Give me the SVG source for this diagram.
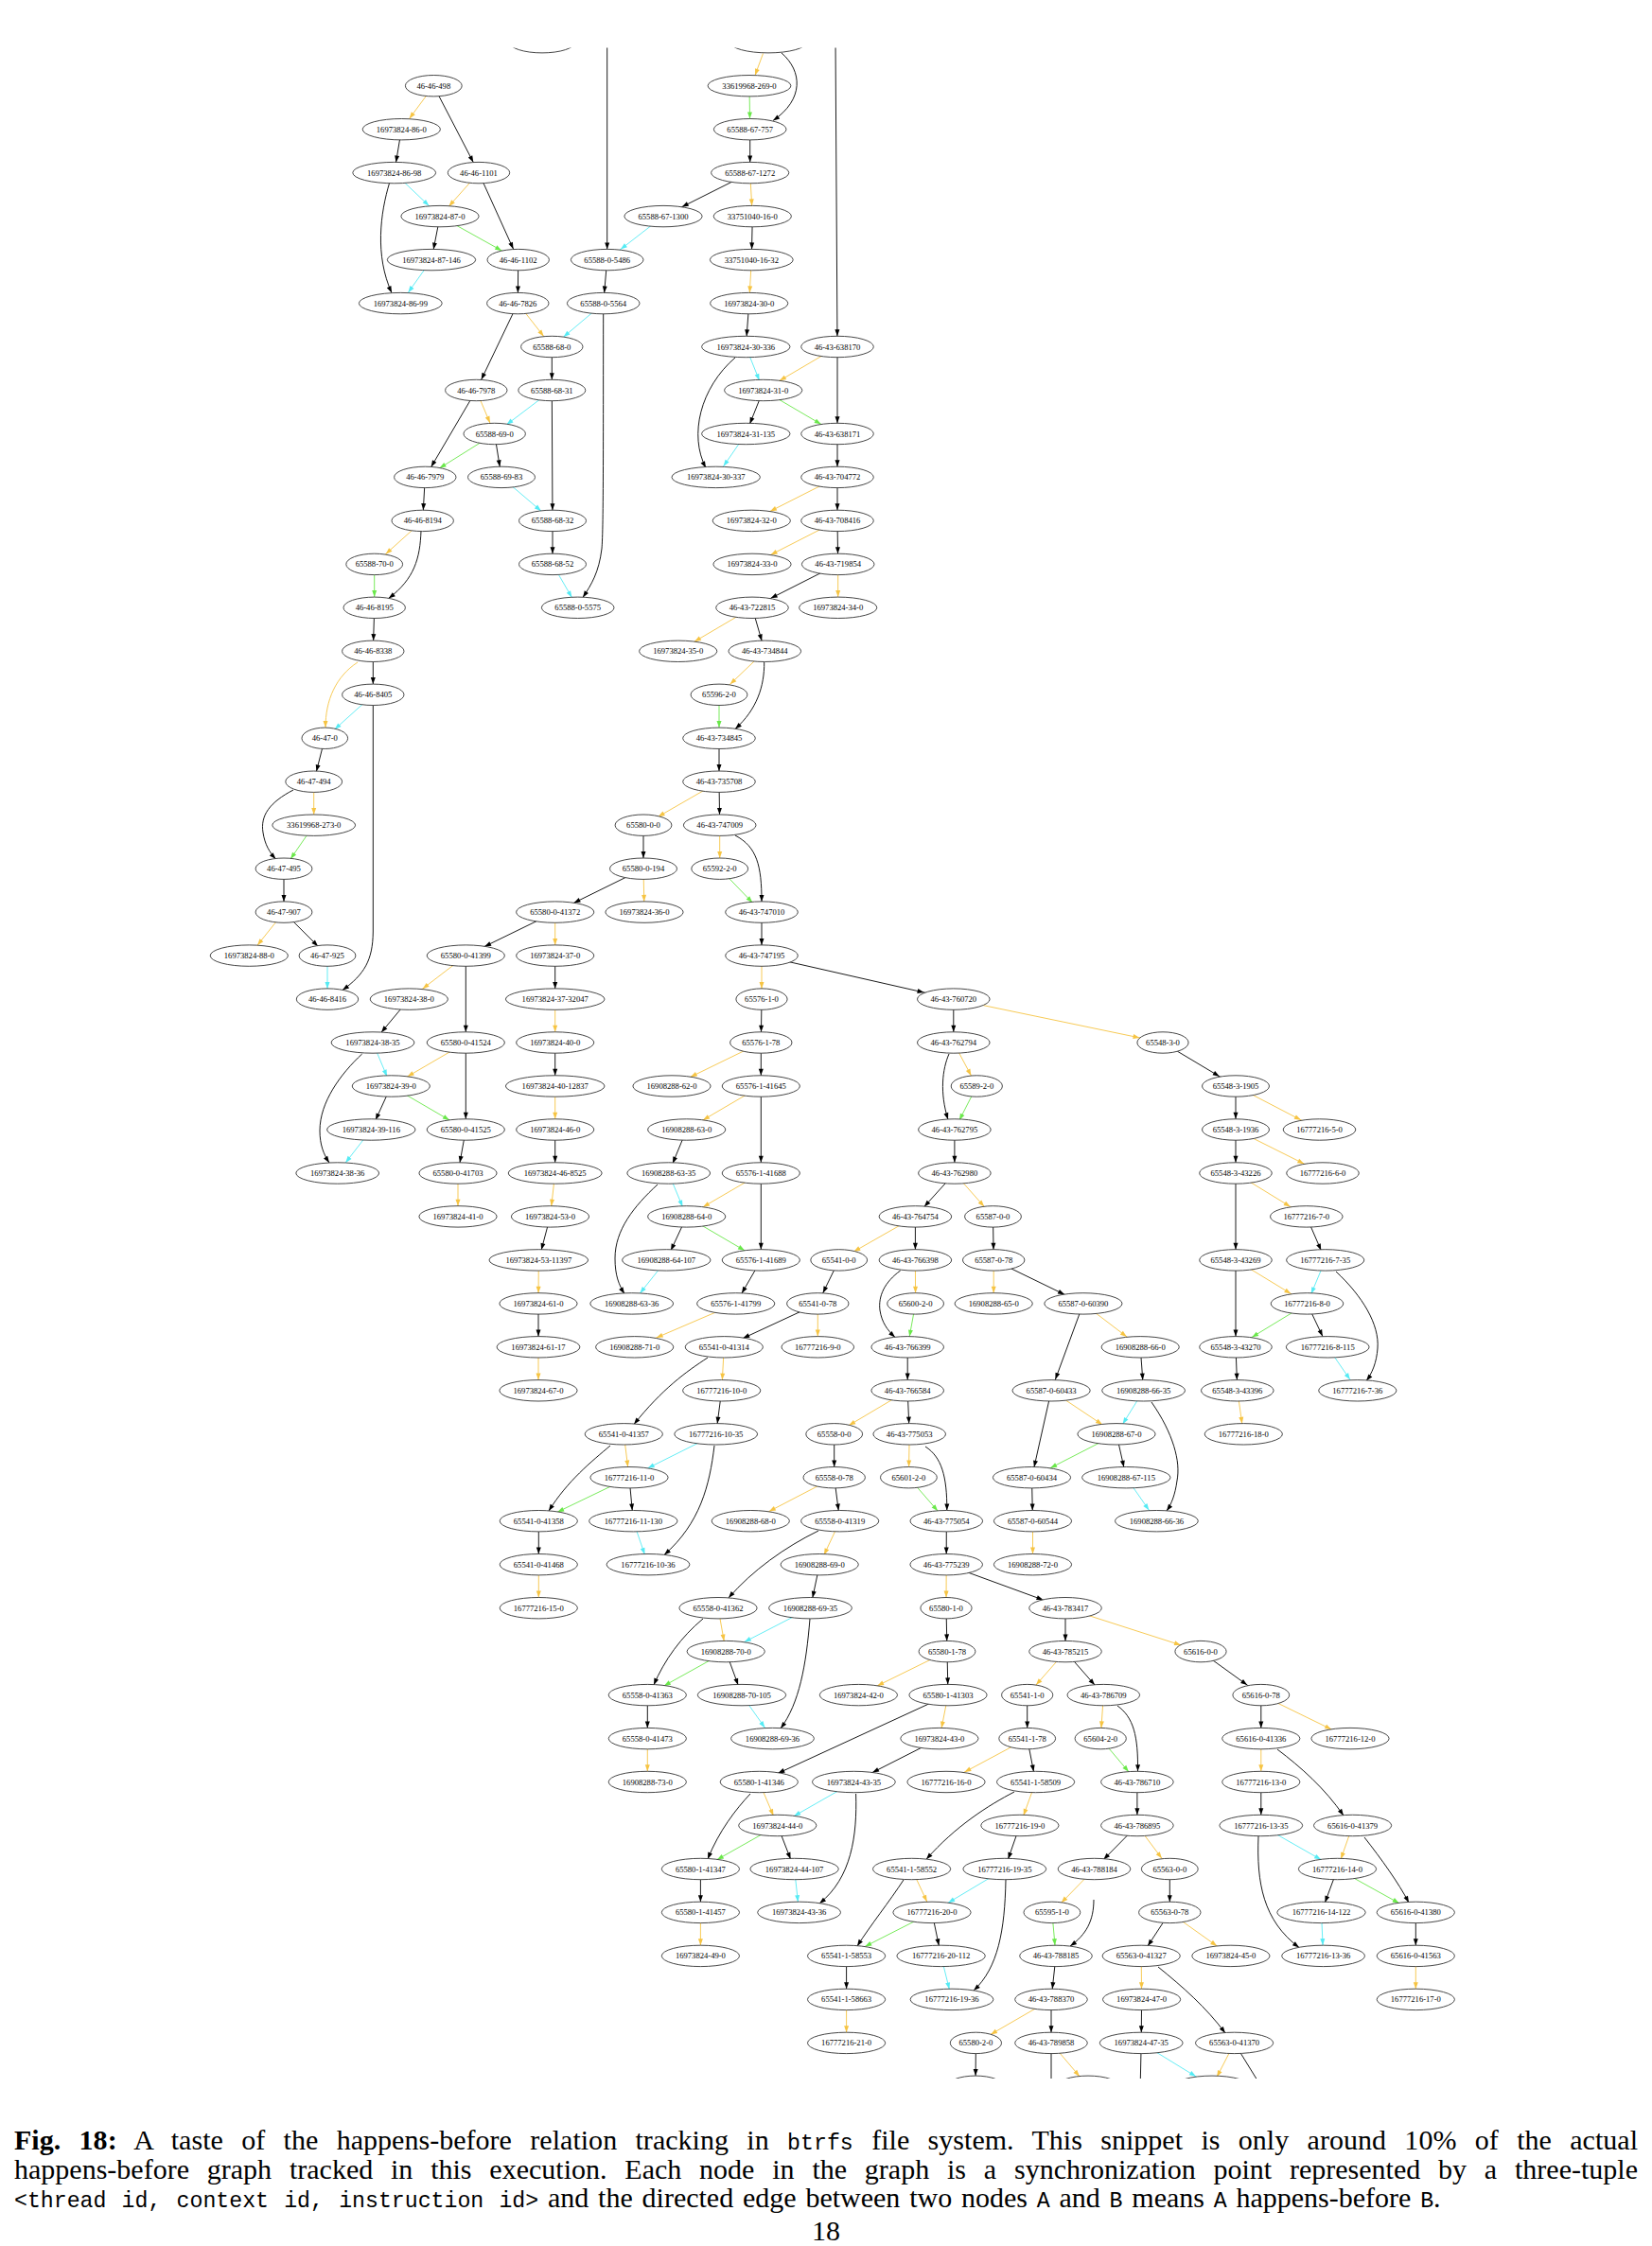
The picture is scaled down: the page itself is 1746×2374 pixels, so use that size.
<svg xmlns="http://www.w3.org/2000/svg" width="1746" height="2374" viewBox="0 0 1746 2374">
<style>
.n ellipse{fill:#fff;stroke:#333;stroke-width:.9}
.n text{font-family:"Liberation Serif",serif;font-size:8.6px;text-anchor:middle;fill:#000}
#edges path{fill:none;stroke-width:.9}
.k{stroke:#000}.o{stroke:#f6c443}.c{stroke:#55ebf4}.g{stroke:#6ae84a}
marker{overflow:visible}
.cap{font-family:"Liberation Serif",serif;font-size:30px;fill:#000}
.mono{font-family:"Liberation Mono",monospace;font-size:23.2px}
</style>
<defs>
<clipPath id="clip"><rect x="0" y="50.5" width="1746" height="2146.5"/></clipPath>
<marker id="k0" refX="0" markerUnits="userSpaceOnUse" orient="auto"><path d="M0,0L-7,-2.5L-7,2.5Z" fill="#000"/></marker>
<marker id="k11" refX="11.2" markerUnits="userSpaceOnUse" orient="auto"><path d="M0,0L-7,-2.5L-7,2.5Z" fill="#000"/></marker>
<marker id="k12" refX="12.5" markerUnits="userSpaceOnUse" orient="auto"><path d="M0,0L-7,-2.5L-7,2.5Z" fill="#000"/></marker>
<marker id="k14" refX="14" markerUnits="userSpaceOnUse" orient="auto"><path d="M0,0L-7,-2.5L-7,2.5Z" fill="#000"/></marker>
<marker id="k16" refX="16" markerUnits="userSpaceOnUse" orient="auto"><path d="M0,0L-7,-2.5L-7,2.5Z" fill="#000"/></marker>
<marker id="k18" refX="18" markerUnits="userSpaceOnUse" orient="auto"><path d="M0,0L-7,-2.5L-7,2.5Z" fill="#000"/></marker>
<marker id="k20" refX="20" markerUnits="userSpaceOnUse" orient="auto"><path d="M0,0L-7,-2.5L-7,2.5Z" fill="#000"/></marker>
<marker id="k22" refX="22" markerUnits="userSpaceOnUse" orient="auto"><path d="M0,0L-7,-2.5L-7,2.5Z" fill="#000"/></marker>
<marker id="k25" refX="25" markerUnits="userSpaceOnUse" orient="auto"><path d="M0,0L-7,-2.5L-7,2.5Z" fill="#000"/></marker>
<marker id="k32" refX="32" markerUnits="userSpaceOnUse" orient="auto"><path d="M0,0L-7,-2.5L-7,2.5Z" fill="#000"/></marker>
<marker id="o0" refX="0" markerUnits="userSpaceOnUse" orient="auto"><path d="M0,0L-7,-2.5L-7,2.5Z" fill="#f6c443"/></marker>
<marker id="o11" refX="11.2" markerUnits="userSpaceOnUse" orient="auto"><path d="M0,0L-7,-2.5L-7,2.5Z" fill="#f6c443"/></marker>
<marker id="o12" refX="12.5" markerUnits="userSpaceOnUse" orient="auto"><path d="M0,0L-7,-2.5L-7,2.5Z" fill="#f6c443"/></marker>
<marker id="o14" refX="14" markerUnits="userSpaceOnUse" orient="auto"><path d="M0,0L-7,-2.5L-7,2.5Z" fill="#f6c443"/></marker>
<marker id="o16" refX="16" markerUnits="userSpaceOnUse" orient="auto"><path d="M0,0L-7,-2.5L-7,2.5Z" fill="#f6c443"/></marker>
<marker id="o18" refX="18" markerUnits="userSpaceOnUse" orient="auto"><path d="M0,0L-7,-2.5L-7,2.5Z" fill="#f6c443"/></marker>
<marker id="o20" refX="20" markerUnits="userSpaceOnUse" orient="auto"><path d="M0,0L-7,-2.5L-7,2.5Z" fill="#f6c443"/></marker>
<marker id="o22" refX="22" markerUnits="userSpaceOnUse" orient="auto"><path d="M0,0L-7,-2.5L-7,2.5Z" fill="#f6c443"/></marker>
<marker id="o25" refX="25" markerUnits="userSpaceOnUse" orient="auto"><path d="M0,0L-7,-2.5L-7,2.5Z" fill="#f6c443"/></marker>
<marker id="c11" refX="11.2" markerUnits="userSpaceOnUse" orient="auto"><path d="M0,0L-7,-2.5L-7,2.5Z" fill="#55ebf4"/></marker>
<marker id="c12" refX="12.5" markerUnits="userSpaceOnUse" orient="auto"><path d="M0,0L-7,-2.5L-7,2.5Z" fill="#55ebf4"/></marker>
<marker id="c14" refX="14" markerUnits="userSpaceOnUse" orient="auto"><path d="M0,0L-7,-2.5L-7,2.5Z" fill="#55ebf4"/></marker>
<marker id="c16" refX="16" markerUnits="userSpaceOnUse" orient="auto"><path d="M0,0L-7,-2.5L-7,2.5Z" fill="#55ebf4"/></marker>
<marker id="c18" refX="18" markerUnits="userSpaceOnUse" orient="auto"><path d="M0,0L-7,-2.5L-7,2.5Z" fill="#55ebf4"/></marker>
<marker id="c20" refX="20" markerUnits="userSpaceOnUse" orient="auto"><path d="M0,0L-7,-2.5L-7,2.5Z" fill="#55ebf4"/></marker>
<marker id="c22" refX="22" markerUnits="userSpaceOnUse" orient="auto"><path d="M0,0L-7,-2.5L-7,2.5Z" fill="#55ebf4"/></marker>
<marker id="g11" refX="11.2" markerUnits="userSpaceOnUse" orient="auto"><path d="M0,0L-7,-2.5L-7,2.5Z" fill="#6ae84a"/></marker>
<marker id="g12" refX="12.5" markerUnits="userSpaceOnUse" orient="auto"><path d="M0,0L-7,-2.5L-7,2.5Z" fill="#6ae84a"/></marker>
<marker id="g14" refX="14" markerUnits="userSpaceOnUse" orient="auto"><path d="M0,0L-7,-2.5L-7,2.5Z" fill="#6ae84a"/></marker>
<marker id="g18" refX="18" markerUnits="userSpaceOnUse" orient="auto"><path d="M0,0L-7,-2.5L-7,2.5Z" fill="#6ae84a"/></marker>
<marker id="g20" refX="20" markerUnits="userSpaceOnUse" orient="auto"><path d="M0,0L-7,-2.5L-7,2.5Z" fill="#6ae84a"/></marker>
<marker id="g22" refX="22" markerUnits="userSpaceOnUse" orient="auto"><path d="M0,0L-7,-2.5L-7,2.5Z" fill="#6ae84a"/></marker>
</defs>
<rect width="1746" height="2374" fill="#fff"/>
<g clip-path="url(#clip)">
<g id="edges">
<path class="o" d="M806.5,56.5L798,79.6" marker-end="url(#o0)"/>
<path class="k" d="M826,56C848,75 850,105 817,127.5" marker-end="url(#k0)"/>
<path class="k" d="M641.7,40L641.7,274.6" marker-end="url(#k11)"/>
<path class="k" d="M883,40L885,366.5" marker-end="url(#k11)"/>
<path class="o" d="M458.3,90.7L424.3,136.7" marker-end="url(#o14)"/>
<path class="k" d="M458.3,90.7L506,182.6" marker-end="url(#k12)"/>
<path class="k" d="M424.3,136.7L416.7,182.6" marker-end="url(#k11)"/>
<path class="c" d="M416.7,182.6L465,228.6" marker-end="url(#c16)"/>
<path class="k" d="M411.7,193C402,225 396,270 414,309.5" marker-end="url(#k0)"/>
<path class="o" d="M506,182.6L465,228.6" marker-end="url(#o14)"/>
<path class="k" d="M506,182.6L547.7,274.6" marker-end="url(#k12)"/>
<path class="k" d="M465,228.6L456,274.6" marker-end="url(#k11)"/>
<path class="g" d="M465,228.6L547.7,274.6" marker-end="url(#g20)"/>
<path class="c" d="M456,274.6L423.3,320.6" marker-end="url(#c14)"/>
<path class="c" d="M701,228.6L641.7,274.6" marker-end="url(#c18)"/>
<path class="k" d="M641.7,274.6L637.7,320.6" marker-end="url(#k11)"/>
<path class="k" d="M547.7,274.6L547.3,320.6" marker-end="url(#k11)"/>
<path class="o" d="M547.3,320.6L583.3,366.5" marker-end="url(#o14)"/>
<path class="c" d="M637.7,320.6L583.3,366.5" marker-end="url(#c16)"/>
<path class="k" d="M637.7,331C637.5,450 638,560 636,580C633,605 625,618 616,631.5" marker-end="url(#k0)"/>
<path class="k" d="M547.3,320.6L503.3,412.5" marker-end="url(#k12)"/>
<path class="k" d="M583.3,366.5L583.3,412.5" marker-end="url(#k11)"/>
<path class="o" d="M503.3,412.5L522.7,458.5" marker-end="url(#o12)"/>
<path class="c" d="M583.3,412.5L522.7,458.5" marker-end="url(#c16)"/>
<path class="k" d="M503.3,412.5L449.3,504.4" marker-end="url(#k12)"/>
<path class="g" d="M522.7,458.5L449.3,504.4" marker-end="url(#g18)"/>
<path class="k" d="M522.7,458.5L530,504.4" marker-end="url(#k11)"/>
<path class="k" d="M583.3,412.5L584,550.4" marker-end="url(#k11)"/>
<path class="c" d="M530,504.4L584,550.4" marker-end="url(#c16)"/>
<path class="k" d="M449.3,504.4L446.7,550.4" marker-end="url(#k11)"/>
<path class="o" d="M446.7,550.4L395.7,596.4" marker-end="url(#o16)"/>
<path class="k" d="M445,561C444,590 438,612 410.7,632.4" marker-end="url(#k0)"/>
<path class="k" d="M584,550.4L584,596.4" marker-end="url(#k11)"/>
<path class="c" d="M584,596.4L610.7,642.3" marker-end="url(#c12)"/>
<path class="g" d="M395.7,596.4L395.7,642.3" marker-end="url(#g11)"/>
<path class="g" d="M792,90.7L792.7,136.7" marker-end="url(#g11)"/>
<path class="k" d="M792.7,136.7L792.7,182.6" marker-end="url(#k11)"/>
<path class="k" d="M792.7,182.6L701,228.6" marker-end="url(#k22)"/>
<path class="o" d="M792.7,182.6L795.3,228.6" marker-end="url(#o11)"/>
<path class="k" d="M795.3,228.6L794.3,274.6" marker-end="url(#k11)"/>
<path class="o" d="M794.3,274.6L791.7,320.6" marker-end="url(#o11)"/>
<path class="k" d="M791.7,320.6L788.3,366.5" marker-end="url(#k11)"/>
<path class="c" d="M788.3,366.5L806.7,412.5" marker-end="url(#c11)"/>
<path class="o" d="M885,366.5L806.7,412.5" marker-end="url(#o20)"/>
<path class="k" d="M777,378C740,410 728,460 746,494.5" marker-end="url(#k0)"/>
<path class="k" d="M806.7,412.5L788.3,458.5" marker-end="url(#k11)"/>
<path class="g" d="M806.7,412.5L885,458.5" marker-end="url(#g20)"/>
<path class="k" d="M885,366.5L885,458.5" marker-end="url(#k11)"/>
<path class="c" d="M788.3,458.5L756.7,504.4" marker-end="url(#c14)"/>
<path class="k" d="M885,458.5L885,504.4" marker-end="url(#k11)"/>
<path class="o" d="M885,504.4L794.3,550.4" marker-end="url(#o22)"/>
<path class="k" d="M885,504.4L885,550.4" marker-end="url(#k11)"/>
<path class="o" d="M885,550.4L795,596.4" marker-end="url(#o22)"/>
<path class="k" d="M885,550.4L885.7,596.4" marker-end="url(#k11)"/>
<path class="k" d="M885.7,596.4L795,642.3" marker-end="url(#k22)"/>
<path class="o" d="M885.7,596.4L885.7,642.3" marker-end="url(#o11)"/>
<path class="o" d="M795,642.3L716.7,688.3" marker-end="url(#o20)"/>
<path class="k" d="M795,642.3L808.3,688.3" marker-end="url(#k11)"/>
<path class="k" d="M395.7,642.3L394.3,688.3" marker-end="url(#k11)"/>
<path class="k" d="M394.3,688.3L394.3,734.3" marker-end="url(#k11)"/>
<path class="o" d="M378,700C355,715 344,740 344,769" marker-end="url(#o0)"/>
<path class="c" d="M394.3,734.3L343.3,780.3" marker-end="url(#c14)"/>
<path class="k" d="M394.3,745L394.3,985C394,1015 385,1030 362,1046.5" marker-end="url(#k0)"/>
<path class="k" d="M343.3,780.3L331.7,826.2" marker-end="url(#k11)"/>
<path class="o" d="M331.7,826.2L331.7,872.2" marker-end="url(#o11)"/>
<path class="k" d="M310,835C285,848 275,862 278,880C280,893 285,901 291.5,908" marker-end="url(#k0)"/>
<path class="g" d="M331.7,872.2L300,918.2" marker-end="url(#g12)"/>
<path class="k" d="M300,918.2L300,964.1" marker-end="url(#k11)"/>
<path class="o" d="M300,964.1L263.3,1010.1" marker-end="url(#o14)"/>
<path class="k" d="M300,964.1L346,1010.1" marker-end="url(#k14)"/>
<path class="c" d="M346,1010.1L346,1056.1" marker-end="url(#c11)"/>
<path class="k" d="M680,918.2L586.7,964.1" marker-end="url(#k22)"/>
<path class="k" d="M586.7,964.1L492.3,1010.1" marker-end="url(#k22)"/>
<path class="o" d="M586.7,964.1L586.7,1010.1" marker-end="url(#o11)"/>
<path class="o" d="M492.3,1010.1L432.3,1056.1" marker-end="url(#o18)"/>
<path class="k" d="M492.3,1010.1L492.3,1102" marker-end="url(#k11)"/>
<path class="k" d="M586.7,1010.1L586.7,1056.1" marker-end="url(#k11)"/>
<path class="o" d="M586.7,1056.1L586.7,1102" marker-end="url(#o11)"/>
<path class="k" d="M432.3,1056.1L394,1102" marker-end="url(#k14)"/>
<path class="c" d="M394,1102L413.3,1148" marker-end="url(#c11)"/>
<path class="o" d="M492.3,1102L413.3,1148" marker-end="url(#o20)"/>
<path class="k" d="M382.7,1114C360,1135 338,1165 338,1195C338,1210 342,1220 348,1229" marker-end="url(#k0)"/>
<path class="k" d="M413.3,1148L392.3,1194" marker-end="url(#k11)"/>
<path class="g" d="M413.3,1148L492.3,1194" marker-end="url(#g20)"/>
<path class="k" d="M492.3,1102L492.3,1194" marker-end="url(#k11)"/>
<path class="k" d="M586.7,1102L586.7,1148" marker-end="url(#k11)"/>
<path class="o" d="M586.7,1148L586.7,1194" marker-end="url(#o11)"/>
<path class="c" d="M392.3,1194L356.7,1240" marker-end="url(#c14)"/>
<path class="k" d="M492.3,1194L484,1240" marker-end="url(#k11)"/>
<path class="k" d="M586.7,1194L586.7,1240" marker-end="url(#k11)"/>
<path class="o" d="M484,1240L484,1285.9" marker-end="url(#o11)"/>
<path class="o" d="M586.7,1240L581.5,1285.9" marker-end="url(#o11)"/>
<path class="o" d="M808.3,688.3L760,734.3" marker-end="url(#o16)"/>
<path class="k" d="M807.7,700C808,725 800,750 777,770.5" marker-end="url(#k0)"/>
<path class="g" d="M760,734.3L760,780.3" marker-end="url(#g11)"/>
<path class="k" d="M760,780.3L760,826.2" marker-end="url(#k11)"/>
<path class="o" d="M760,826.2L680,872.2" marker-end="url(#o18)"/>
<path class="k" d="M760,826.2L760.7,872.2" marker-end="url(#k11)"/>
<path class="k" d="M680,872.2L680,918.2" marker-end="url(#k11)"/>
<path class="o" d="M760.7,872.2L760.7,918.2" marker-end="url(#o11)"/>
<path class="k" d="M777,883C800,895 805,915 805,952.9" marker-end="url(#k0)"/>
<path class="g" d="M760.7,918.2L805,964.1" marker-end="url(#g14)"/>
<path class="o" d="M680,918.2L681,964.1" marker-end="url(#o11)"/>
<path class="k" d="M805,964.1L805,1010.1" marker-end="url(#k11)"/>
<path class="o" d="M805,1010.1L805,1056.1" marker-end="url(#o11)"/>
<path class="k" d="M805,1010.1L1007.8,1056.1" marker-end="url(#k32)"/>
<path class="k" d="M805,1056.1L804.3,1102" marker-end="url(#k11)"/>
<path class="o" d="M804.3,1102L710,1148" marker-end="url(#o22)"/>
<path class="k" d="M804.3,1102L804.3,1148" marker-end="url(#k11)"/>
<path class="o" d="M804.3,1148L725.7,1194" marker-end="url(#o20)"/>
<path class="k" d="M804.3,1148L804.3,1240" marker-end="url(#k11)"/>
<path class="k" d="M725.7,1194L706.7,1240" marker-end="url(#k11)"/>
<path class="c" d="M706.7,1240L725.7,1285.9" marker-end="url(#c11)"/>
<path class="o" d="M804.3,1240L725.7,1285.9" marker-end="url(#o20)"/>
<path class="k" d="M695,1252C670,1275 650,1300 650,1330C650,1348 654,1358 660,1367.5" marker-end="url(#k0)"/>
<path class="k" d="M725.7,1285.9L704.3,1331.9" marker-end="url(#k11)"/>
<path class="g" d="M725.7,1285.9L804.3,1331.9" marker-end="url(#g20)"/>
<path class="k" d="M804.3,1240L804.3,1331.9" marker-end="url(#k11)"/>
<path class="k" d="M1008.9,1240L967.4,1285.9" marker-end="url(#k14)"/>
<path class="o" d="M967.4,1285.9L886.7,1331.9" marker-end="url(#o18)"/>
<path class="k" d="M967.4,1285.9L967.4,1331.9" marker-end="url(#k11)"/>
<path class="k" d="M581.5,1285.9L569.3,1331.9" marker-end="url(#k11)"/>
<path class="o" d="M569.3,1331.9L569,1377.9" marker-end="url(#o11)"/>
<path class="k" d="M1007.8,1056.1L1007.8,1102" marker-end="url(#k11)"/>
<path class="o" d="M1007.8,1056.1L1229,1102" marker-end="url(#o25)"/>
<path class="o" d="M1007.8,1102L1032.3,1148" marker-end="url(#o12)"/>
<path class="k" d="M1003,1114C996,1130 993,1155 1002,1183.3" marker-end="url(#k0)"/>
<path class="g" d="M1032.3,1148L1008.9,1194" marker-end="url(#g11)"/>
<path class="k" d="M1008.9,1194L1008.9,1240" marker-end="url(#k11)"/>
<path class="o" d="M1008.9,1240L1049.5,1285.9" marker-end="url(#o14)"/>
<path class="k" d="M1229,1102L1306,1148" marker-end="url(#k20)"/>
<path class="k" d="M1306,1148L1306,1194" marker-end="url(#k11)"/>
<path class="o" d="M1306,1148L1394.5,1194" marker-end="url(#o22)"/>
<path class="k" d="M1306,1194L1306,1240" marker-end="url(#k11)"/>
<path class="o" d="M1306,1194L1398,1240" marker-end="url(#o22)"/>
<path class="o" d="M1306,1240L1380.8,1285.9" marker-end="url(#o20)"/>
<path class="k" d="M1306,1240L1306,1331.9" marker-end="url(#k11)"/>
<path class="k" d="M1380.8,1285.9L1400.7,1331.9" marker-end="url(#k11)"/>
<path class="o" d="M1306,1331.9L1381.5,1377.9" marker-end="url(#o20)"/>
<path class="c" d="M1400.7,1331.9L1381.5,1377.9" marker-end="url(#c11)"/>
<path class="k" d="M1412,1344C1440,1370 1458,1400 1456,1425C1455,1440 1450,1452 1444,1459.5" marker-end="url(#k0)"/>
<path class="k" d="M1306,1331.9L1306,1423.8" marker-end="url(#k11)"/>
<path class="g" d="M1381.5,1377.9L1306,1423.8" marker-end="url(#g20)"/>
<path class="k" d="M1381.5,1377.9L1403.2,1423.8" marker-end="url(#k12)"/>
<path class="c" d="M1403.2,1423.8L1434.8,1469.8" marker-end="url(#c14)"/>
<path class="k" d="M1306,1423.8L1307.8,1469.8" marker-end="url(#k11)"/>
<path class="o" d="M1307.8,1469.8L1314.3,1515.8" marker-end="url(#o11)"/>
<path class="o" d="M967.4,1331.9L967.6,1377.9" marker-end="url(#o11)"/>
<path class="k" d="M951.7,1343C935,1355 928,1370 930,1385C932,1398 938,1406 946,1413.5" marker-end="url(#k0)"/>
<path class="g" d="M967.6,1377.9L959.2,1423.8" marker-end="url(#g11)"/>
<path class="k" d="M959.2,1423.8L959.2,1469.8" marker-end="url(#k11)"/>
<path class="o" d="M959.2,1469.8L881.7,1515.8" marker-end="url(#o18)"/>
<path class="k" d="M959.2,1469.8L961.2,1515.8" marker-end="url(#k11)"/>
<path class="o" d="M961.2,1515.8L960.4,1561.7" marker-end="url(#o11)"/>
<path class="k" d="M978,1529C995,1540 1001,1560 1000.8,1596.5" marker-end="url(#k0)"/>
<path class="g" d="M960.4,1561.7L1000.3,1607.7" marker-end="url(#g14)"/>
<path class="k" d="M1000.3,1607.7L1000.2,1653.7" marker-end="url(#k11)"/>
<path class="k" d="M1049.5,1285.9L1050.2,1331.9" marker-end="url(#k11)"/>
<path class="o" d="M1050.2,1331.9L1050.2,1377.9" marker-end="url(#o11)"/>
<path class="k" d="M1050.2,1331.9L1144.9,1377.9" marker-end="url(#k22)"/>
<path class="o" d="M1144.9,1377.9L1205.2,1423.8" marker-end="url(#o18)"/>
<path class="k" d="M1144.9,1377.9L1111.1,1469.8" marker-end="url(#k12)"/>
<path class="k" d="M1205.2,1423.8L1208.6,1469.8" marker-end="url(#k11)"/>
<path class="o" d="M1111.1,1469.8L1180,1515.8" marker-end="url(#o18)"/>
<path class="c" d="M1208.6,1469.8L1180,1515.8" marker-end="url(#c12)"/>
<path class="k" d="M1217,1482C1240,1515 1248,1545 1244,1565C1242,1580 1238,1590 1233,1597" marker-end="url(#k0)"/>
<path class="k" d="M1111.1,1469.8L1090.5,1561.7" marker-end="url(#k11)"/>
<path class="g" d="M1180,1515.8L1090.5,1561.7" marker-end="url(#g22)"/>
<path class="k" d="M1180,1515.8L1190.3,1561.7" marker-end="url(#k11)"/>
<path class="c" d="M1190.3,1561.7L1222.4,1607.7" marker-end="url(#c14)"/>
<path class="k" d="M1090.5,1561.7L1091.5,1607.7" marker-end="url(#k11)"/>
<path class="o" d="M1091.5,1607.7L1091.5,1653.7" marker-end="url(#o11)"/>
<path class="o" d="M1000.2,1653.7L1000,1699.7" marker-end="url(#o11)"/>
<path class="k" d="M1000.2,1653.7L1126,1699.7" marker-end="url(#k25)"/>
<path class="c" d="M704.3,1331.9L667.7,1377.9" marker-end="url(#c14)"/>
<path class="k" d="M804.3,1331.9L777.7,1377.9" marker-end="url(#k12)"/>
<path class="k" d="M886.7,1331.9L864.3,1377.9" marker-end="url(#k12)"/>
<path class="k" d="M569,1377.9L569,1423.8" marker-end="url(#k11)"/>
<path class="o" d="M777.7,1377.9L670.7,1423.8" marker-end="url(#o25)"/>
<path class="k" d="M864.3,1377.9L765.3,1423.8" marker-end="url(#k22)"/>
<path class="o" d="M864.3,1377.9L864.3,1423.8" marker-end="url(#o11)"/>
<path class="o" d="M569,1423.8L569,1469.8" marker-end="url(#o11)"/>
<path class="o" d="M765.3,1423.8L762.7,1469.8" marker-end="url(#o11)"/>
<path class="k" d="M748,1435C725,1450 700,1468 670,1505.5" marker-end="url(#k0)"/>
<path class="k" d="M762.7,1469.8L756.7,1515.8" marker-end="url(#k11)"/>
<path class="o" d="M659.3,1515.8L665,1561.7" marker-end="url(#o11)"/>
<path class="c" d="M756.7,1515.8L665,1561.7" marker-end="url(#c22)"/>
<path class="k" d="M755,1528C750,1570 740,1610 702,1643.5" marker-end="url(#k0)"/>
<path class="k" d="M645,1528C625,1545 600,1565 580,1597" marker-end="url(#k0)"/>
<path class="g" d="M665,1561.7L569.3,1607.7" marker-end="url(#g22)"/>
<path class="k" d="M665,1561.7L669.3,1607.7" marker-end="url(#k11)"/>
<path class="c" d="M669.3,1607.7L685,1653.7" marker-end="url(#c11)"/>
<path class="k" d="M569.3,1607.7L569.3,1653.7" marker-end="url(#k11)"/>
<path class="o" d="M569.3,1653.7L569.3,1699.7" marker-end="url(#o11)"/>
<path class="k" d="M881.7,1515.8L881.7,1561.7" marker-end="url(#k11)"/>
<path class="o" d="M881.7,1561.7L793.3,1607.7" marker-end="url(#o22)"/>
<path class="k" d="M881.7,1561.7L887.7,1607.7" marker-end="url(#k11)"/>
<path class="o" d="M887.7,1607.7L866.2,1653.7" marker-end="url(#o11)"/>
<path class="k" d="M865,1618C830,1635 795,1660 770,1689" marker-end="url(#k0)"/>
<path class="k" d="M866.2,1653.7L856.5,1699.7" marker-end="url(#k11)"/>
<path class="o" d="M759,1699.7L767.2,1745.6" marker-end="url(#o11)"/>
<path class="c" d="M856.5,1699.7L767.2,1745.6" marker-end="url(#c22)"/>
<path class="k" d="M856,1711C852,1760 845,1800 825,1827" marker-end="url(#k0)"/>
<path class="k" d="M743,1711C720,1730 702,1755 691,1781" marker-end="url(#k0)"/>
<path class="g" d="M767.2,1745.6L684.3,1791.6" marker-end="url(#g20)"/>
<path class="k" d="M767.2,1745.6L784,1791.6" marker-end="url(#k11)"/>
<path class="c" d="M784,1791.6L816.5,1837.6" marker-end="url(#c14)"/>
<path class="k" d="M684.3,1791.6L684.3,1837.6" marker-end="url(#k11)"/>
<path class="o" d="M684.3,1837.6L684.3,1883.5" marker-end="url(#o11)"/>
<path class="k" d="M1000,1699.7L1001,1745.6" marker-end="url(#k11)"/>
<path class="k" d="M1126,1699.7L1126,1745.6" marker-end="url(#k11)"/>
<path class="o" d="M1126,1699.7L1269,1745.6" marker-end="url(#o22)"/>
<path class="o" d="M1001,1745.6L907.4,1791.6" marker-end="url(#o22)"/>
<path class="k" d="M1001,1745.6L1002,1791.6" marker-end="url(#k11)"/>
<path class="o" d="M1126,1745.6L1085.7,1791.6" marker-end="url(#o14)"/>
<path class="k" d="M1126,1745.6L1166.3,1791.6" marker-end="url(#k14)"/>
<path class="o" d="M1002,1791.6L992.9,1837.6" marker-end="url(#o11)"/>
<path class="k" d="M1002,1791.6L802.3,1883.5" marker-end="url(#k22)"/>
<path class="k" d="M1085.7,1791.6L1085.7,1837.6" marker-end="url(#k11)"/>
<path class="o" d="M1166.3,1791.6L1163.2,1837.6" marker-end="url(#o11)"/>
<path class="k" d="M1181,1803C1198,1815 1203,1835 1202.5,1872.3" marker-end="url(#k0)"/>
<path class="g" d="M1163.2,1837.6L1201.9,1883.5" marker-end="url(#g14)"/>
<path class="k" d="M992.9,1837.6L902.4,1883.5" marker-end="url(#k22)"/>
<path class="o" d="M1085.7,1837.6L1000,1883.5" marker-end="url(#o22)"/>
<path class="k" d="M1085.7,1837.6L1094.6,1883.5" marker-end="url(#k11)"/>
<path class="o" d="M802.3,1883.5L821.8,1929.5" marker-end="url(#o11)"/>
<path class="c" d="M902.4,1883.5L821.8,1929.5" marker-end="url(#c20)"/>
<path class="k" d="M904.6,1896C906,1940 900,1985 866,2012" marker-end="url(#k0)"/>
<path class="k" d="M793,1896C778,1912 760,1935 748,1965" marker-end="url(#k0)"/>
<path class="g" d="M821.8,1929.5L740.4,1975.5" marker-end="url(#g20)"/>
<path class="k" d="M821.8,1929.5L839.6,1975.5" marker-end="url(#k11)"/>
<path class="c" d="M839.6,1975.5L844.6,2021.4" marker-end="url(#c11)"/>
<path class="k" d="M740.4,1975.5L740.4,2021.4" marker-end="url(#k11)"/>
<path class="o" d="M740.4,2021.4L740.4,2067.4" marker-end="url(#o11)"/>
<path class="o" d="M1094.6,1883.5L1077.9,1929.5" marker-end="url(#o11)"/>
<path class="k" d="M1072,1894C1045,1908 1010,1930 979,1965.3" marker-end="url(#k0)"/>
<path class="k" d="M1077.9,1929.5L1061.8,1975.5" marker-end="url(#k11)"/>
<path class="o" d="M963.6,1975.5L985,2021.4" marker-end="url(#o12)"/>
<path class="c" d="M1061.8,1975.5L985,2021.4" marker-end="url(#c20)"/>
<path class="k" d="M1063,1987C1062,2040 1055,2080 1029,2104" marker-end="url(#k0)"/>
<path class="k" d="M955,1987C940,2010 920,2035 906,2057" marker-end="url(#k0)"/>
<path class="g" d="M985,2021.4L894.6,2067.4" marker-end="url(#g22)"/>
<path class="k" d="M985,2021.4L994.6,2067.4" marker-end="url(#k11)"/>
<path class="c" d="M994.6,2067.4L1006,2113.4" marker-end="url(#c11)"/>
<path class="k" d="M894.6,2067.4L894.6,2113.4" marker-end="url(#k11)"/>
<path class="o" d="M894.6,2113.4L894.6,2159.4" marker-end="url(#o11)"/>
<path class="k" d="M1201.9,1883.5L1201.9,1929.5" marker-end="url(#k11)"/>
<path class="k" d="M1201.9,1929.5L1156.5,1975.5" marker-end="url(#k14)"/>
<path class="o" d="M1201.9,1929.5L1236.3,1975.5" marker-end="url(#o14)"/>
<path class="o" d="M1156.5,1975.5L1111.9,2021.4" marker-end="url(#o14)"/>
<path class="k" d="M1156,2008C1156,2030 1148,2045 1131,2057" marker-end="url(#k0)"/>
<path class="g" d="M1111.9,2021.4L1116,2067.4" marker-end="url(#g11)"/>
<path class="k" d="M1116,2067.4L1111,2113.4" marker-end="url(#k11)"/>
<path class="o" d="M1111,2113.4L1031.4,2159.4" marker-end="url(#o18)"/>
<path class="k" d="M1111,2113.4L1111,2159.4" marker-end="url(#k11)"/>
<path class="k" d="M1031.4,2159.4L1031,2205.3" marker-end="url(#k11)"/>
<path class="o" d="M1111,2159.4L1150,2205.3" marker-end="url(#o14)"/>
<path class="k" d="M1111,2159.4L1111,2212"/>
<path class="k" d="M1206.2,2159.4L1205,2212"/>
<path class="c" d="M1206.2,2159.4L1281,2205.3" marker-end="url(#c20)"/>
<path class="o" d="M1304.6,2159.4L1281,2205.3" marker-end="url(#o11)"/>
<path class="k" d="M1304.6,2159.4L1337,2212"/>
<path class="k" d="M1269,1745.6L1332.8,1791.6" marker-end="url(#k18)"/>
<path class="k" d="M1332.8,1791.6L1332.8,1837.6" marker-end="url(#k11)"/>
<path class="o" d="M1332.8,1791.6L1427,1837.6" marker-end="url(#o22)"/>
<path class="o" d="M1332.8,1837.6L1332.8,1883.5" marker-end="url(#o11)"/>
<path class="k" d="M1350,1849C1375,1868 1400,1890 1420,1919" marker-end="url(#k0)"/>
<path class="k" d="M1332.8,1883.5L1332.8,1929.5" marker-end="url(#k11)"/>
<path class="c" d="M1332.8,1929.5L1413.5,1975.5" marker-end="url(#c20)"/>
<path class="o" d="M1429.6,1929.5L1413.5,1975.5" marker-end="url(#o11)"/>
<path class="k" d="M1330,1941C1328,1990 1335,2030 1373,2058.5" marker-end="url(#k0)"/>
<path class="k" d="M1442,1942C1460,1965 1478,1990 1489,2011" marker-end="url(#k0)"/>
<path class="k" d="M1413.5,1975.5L1396.5,2021.4" marker-end="url(#k11)"/>
<path class="g" d="M1413.5,1975.5L1496.3,2021.4" marker-end="url(#g20)"/>
<path class="c" d="M1396.5,2021.4L1398.6,2067.4" marker-end="url(#c11)"/>
<path class="k" d="M1496.3,2021.4L1496.3,2067.4" marker-end="url(#k11)"/>
<path class="o" d="M1496.3,2067.4L1496.3,2113.4" marker-end="url(#o11)"/>
<path class="k" d="M1236.3,1975.5L1236.3,2021.4" marker-end="url(#k11)"/>
<path class="k" d="M1236.3,2021.4L1206.2,2067.4" marker-end="url(#k12)"/>
<path class="o" d="M1236.3,2021.4L1300.9,2067.4" marker-end="url(#o18)"/>
<path class="o" d="M1206.2,2067.4L1206.6,2113.4" marker-end="url(#o11)"/>
<path class="k" d="M1224,2079C1250,2100 1275,2122 1295,2149" marker-end="url(#k0)"/>
<path class="k" d="M1206.6,2113.4L1206.2,2159.4" marker-end="url(#k11)"/>
</g>
<g id="n-top-a" class="n" transform="translate(573,44.7)"><ellipse rx="34.7" ry="11.2"/></g>
<g id="n-top-b" class="n" transform="translate(812,44.7)"><ellipse rx="40.5" ry="11.2"/></g>
<g id="n-bot-c" class="n" transform="translate(1031,2205.3)"><ellipse rx="30" ry="11.2"/></g>
<g id="n-bot-d" class="n" transform="translate(1150,2205.3)"><ellipse rx="33" ry="11.2"/></g>
<g id="n-bot-e" class="n" transform="translate(1281,2205.3)"><ellipse rx="40" ry="11.2"/></g>
<g id="n46-46-498" class="n" transform="translate(458.3,90.7)"><ellipse rx="29.9" ry="11.2"/><text y="3">46-46-498</text></g>
<g id="n33619968-269-0" class="n" transform="translate(792,90.7)"><ellipse rx="43.9" ry="11.2"/><text y="3">33619968-269-0</text></g>
<g id="n16973824-86-0" class="n" transform="translate(424.3,136.7)"><ellipse rx="41.1" ry="11.2"/><text y="3">16973824-86-0</text></g>
<g id="n65588-67-757" class="n" transform="translate(792.7,136.7)"><ellipse rx="38.3" ry="11.2"/><text y="3">65588-67-757</text></g>
<g id="n16973824-86-98" class="n" transform="translate(416.7,182.6)"><ellipse rx="43.9" ry="11.2"/><text y="3">16973824-86-98</text></g>
<g id="n46-46-1101" class="n" transform="translate(506,182.6)"><ellipse rx="32.7" ry="11.2"/><text y="3">46-46-1101</text></g>
<g id="n65588-67-1272" class="n" transform="translate(792.7,182.6)"><ellipse rx="41.1" ry="11.2"/><text y="3">65588-67-1272</text></g>
<g id="n16973824-87-0" class="n" transform="translate(465,228.6)"><ellipse rx="41.1" ry="11.2"/><text y="3">16973824-87-0</text></g>
<g id="n65588-67-1300" class="n" transform="translate(701,228.6)"><ellipse rx="41.1" ry="11.2"/><text y="3">65588-67-1300</text></g>
<g id="n33751040-16-0" class="n" transform="translate(795.3,228.6)"><ellipse rx="41.1" ry="11.2"/><text y="3">33751040-16-0</text></g>
<g id="n16973824-87-146" class="n" transform="translate(456,274.6)"><ellipse rx="46.7" ry="11.2"/><text y="3">16973824-87-146</text></g>
<g id="n46-46-1102" class="n" transform="translate(547.7,274.6)"><ellipse rx="32.7" ry="11.2"/><text y="3">46-46-1102</text></g>
<g id="n65588-0-5486" class="n" transform="translate(641.7,274.6)"><ellipse rx="38.3" ry="11.2"/><text y="3">65588-0-5486</text></g>
<g id="n33751040-16-32" class="n" transform="translate(794.3,274.6)"><ellipse rx="43.9" ry="11.2"/><text y="3">33751040-16-32</text></g>
<g id="n16973824-86-99" class="n" transform="translate(423.3,320.6)"><ellipse rx="43.9" ry="11.2"/><text y="3">16973824-86-99</text></g>
<g id="n46-46-7826" class="n" transform="translate(547.3,320.6)"><ellipse rx="32.7" ry="11.2"/><text y="3">46-46-7826</text></g>
<g id="n65588-0-5564" class="n" transform="translate(637.7,320.6)"><ellipse rx="38.3" ry="11.2"/><text y="3">65588-0-5564</text></g>
<g id="n16973824-30-0" class="n" transform="translate(791.7,320.6)"><ellipse rx="41.1" ry="11.2"/><text y="3">16973824-30-0</text></g>
<g id="n65588-68-0" class="n" transform="translate(583.3,366.5)"><ellipse rx="32.7" ry="11.2"/><text y="3">65588-68-0</text></g>
<g id="n16973824-30-336" class="n" transform="translate(788.3,366.5)"><ellipse rx="46.7" ry="11.2"/><text y="3">16973824-30-336</text></g>
<g id="n46-43-638170" class="n" transform="translate(885,366.5)"><ellipse rx="38.3" ry="11.2"/><text y="3">46-43-638170</text></g>
<g id="n46-46-7978" class="n" transform="translate(503.3,412.5)"><ellipse rx="32.7" ry="11.2"/><text y="3">46-46-7978</text></g>
<g id="n65588-68-31" class="n" transform="translate(583.3,412.5)"><ellipse rx="35.5" ry="11.2"/><text y="3">65588-68-31</text></g>
<g id="n16973824-31-0" class="n" transform="translate(806.7,412.5)"><ellipse rx="41.1" ry="11.2"/><text y="3">16973824-31-0</text></g>
<g id="n65588-69-0" class="n" transform="translate(522.7,458.5)"><ellipse rx="32.7" ry="11.2"/><text y="3">65588-69-0</text></g>
<g id="n16973824-31-135" class="n" transform="translate(788.3,458.5)"><ellipse rx="46.7" ry="11.2"/><text y="3">16973824-31-135</text></g>
<g id="n46-43-638171" class="n" transform="translate(885,458.5)"><ellipse rx="38.3" ry="11.2"/><text y="3">46-43-638171</text></g>
<g id="n46-46-7979" class="n" transform="translate(449.3,504.4)"><ellipse rx="32.7" ry="11.2"/><text y="3">46-46-7979</text></g>
<g id="n65588-69-83" class="n" transform="translate(530,504.4)"><ellipse rx="35.5" ry="11.2"/><text y="3">65588-69-83</text></g>
<g id="n16973824-30-337" class="n" transform="translate(756.7,504.4)"><ellipse rx="46.7" ry="11.2"/><text y="3">16973824-30-337</text></g>
<g id="n46-43-704772" class="n" transform="translate(885,504.4)"><ellipse rx="38.3" ry="11.2"/><text y="3">46-43-704772</text></g>
<g id="n46-46-8194" class="n" transform="translate(446.7,550.4)"><ellipse rx="32.7" ry="11.2"/><text y="3">46-46-8194</text></g>
<g id="n65588-68-32" class="n" transform="translate(584,550.4)"><ellipse rx="35.5" ry="11.2"/><text y="3">65588-68-32</text></g>
<g id="n16973824-32-0" class="n" transform="translate(794.3,550.4)"><ellipse rx="41.1" ry="11.2"/><text y="3">16973824-32-0</text></g>
<g id="n46-43-708416" class="n" transform="translate(885,550.4)"><ellipse rx="38.3" ry="11.2"/><text y="3">46-43-708416</text></g>
<g id="n65588-70-0" class="n" transform="translate(395.7,596.4)"><ellipse rx="29.9" ry="11.2"/><text y="3">65588-70-0</text></g>
<g id="n65588-68-52" class="n" transform="translate(584,596.4)"><ellipse rx="35.5" ry="11.2"/><text y="3">65588-68-52</text></g>
<g id="n16973824-33-0" class="n" transform="translate(795,596.4)"><ellipse rx="41.1" ry="11.2"/><text y="3">16973824-33-0</text></g>
<g id="n46-43-719854" class="n" transform="translate(885.7,596.4)"><ellipse rx="38.3" ry="11.2"/><text y="3">46-43-719854</text></g>
<g id="n46-46-8195" class="n" transform="translate(395.7,642.3)"><ellipse rx="32.7" ry="11.2"/><text y="3">46-46-8195</text></g>
<g id="n65588-0-5575" class="n" transform="translate(610.7,642.3)"><ellipse rx="38.3" ry="11.2"/><text y="3">65588-0-5575</text></g>
<g id="n46-43-722815" class="n" transform="translate(795,642.3)"><ellipse rx="38.3" ry="11.2"/><text y="3">46-43-722815</text></g>
<g id="n16973824-34-0" class="n" transform="translate(885.7,642.3)"><ellipse rx="41.1" ry="11.2"/><text y="3">16973824-34-0</text></g>
<g id="n46-46-8338" class="n" transform="translate(394.3,688.3)"><ellipse rx="32.7" ry="11.2"/><text y="3">46-46-8338</text></g>
<g id="n16973824-35-0" class="n" transform="translate(716.7,688.3)"><ellipse rx="41.1" ry="11.2"/><text y="3">16973824-35-0</text></g>
<g id="n46-43-734844" class="n" transform="translate(808.3,688.3)"><ellipse rx="38.3" ry="11.2"/><text y="3">46-43-734844</text></g>
<g id="n46-46-8405" class="n" transform="translate(394.3,734.3)"><ellipse rx="32.7" ry="11.2"/><text y="3">46-46-8405</text></g>
<g id="n65596-2-0" class="n" transform="translate(760,734.3)"><ellipse rx="29.9" ry="11.2"/><text y="3">65596-2-0</text></g>
<g id="n46-47-0" class="n" transform="translate(343.3,780.3)"><ellipse rx="24.3" ry="11.2"/><text y="3">46-47-0</text></g>
<g id="n46-43-734845" class="n" transform="translate(760,780.3)"><ellipse rx="38.3" ry="11.2"/><text y="3">46-43-734845</text></g>
<g id="n46-47-494" class="n" transform="translate(331.7,826.2)"><ellipse rx="29.9" ry="11.2"/><text y="3">46-47-494</text></g>
<g id="n46-43-735708" class="n" transform="translate(760,826.2)"><ellipse rx="38.3" ry="11.2"/><text y="3">46-43-735708</text></g>
<g id="n33619968-273-0" class="n" transform="translate(331.7,872.2)"><ellipse rx="43.9" ry="11.2"/><text y="3">33619968-273-0</text></g>
<g id="n65580-0-0" class="n" transform="translate(680,872.2)"><ellipse rx="29.9" ry="11.2"/><text y="3">65580-0-0</text></g>
<g id="n46-43-747009" class="n" transform="translate(760.7,872.2)"><ellipse rx="38.3" ry="11.2"/><text y="3">46-43-747009</text></g>
<g id="n46-47-495" class="n" transform="translate(300,918.2)"><ellipse rx="29.9" ry="11.2"/><text y="3">46-47-495</text></g>
<g id="n65580-0-194" class="n" transform="translate(680,918.2)"><ellipse rx="35.5" ry="11.2"/><text y="3">65580-0-194</text></g>
<g id="n65592-2-0" class="n" transform="translate(760.7,918.2)"><ellipse rx="29.9" ry="11.2"/><text y="3">65592-2-0</text></g>
<g id="n46-47-907" class="n" transform="translate(300,964.1)"><ellipse rx="29.9" ry="11.2"/><text y="3">46-47-907</text></g>
<g id="n65580-0-41372" class="n" transform="translate(586.7,964.1)"><ellipse rx="41.1" ry="11.2"/><text y="3">65580-0-41372</text></g>
<g id="n16973824-36-0" class="n" transform="translate(681,964.1)"><ellipse rx="41.1" ry="11.2"/><text y="3">16973824-36-0</text></g>
<g id="n46-43-747010" class="n" transform="translate(805,964.1)"><ellipse rx="38.3" ry="11.2"/><text y="3">46-43-747010</text></g>
<g id="n16973824-88-0" class="n" transform="translate(263.3,1010.1)"><ellipse rx="41.1" ry="11.2"/><text y="3">16973824-88-0</text></g>
<g id="n46-47-925" class="n" transform="translate(346,1010.1)"><ellipse rx="29.9" ry="11.2"/><text y="3">46-47-925</text></g>
<g id="n65580-0-41399" class="n" transform="translate(492.3,1010.1)"><ellipse rx="41.1" ry="11.2"/><text y="3">65580-0-41399</text></g>
<g id="n16973824-37-0" class="n" transform="translate(586.7,1010.1)"><ellipse rx="41.1" ry="11.2"/><text y="3">16973824-37-0</text></g>
<g id="n46-43-747195" class="n" transform="translate(805,1010.1)"><ellipse rx="38.3" ry="11.2"/><text y="3">46-43-747195</text></g>
<g id="n46-46-8416" class="n" transform="translate(346,1056.1)"><ellipse rx="32.7" ry="11.2"/><text y="3">46-46-8416</text></g>
<g id="n16973824-38-0" class="n" transform="translate(432.3,1056.1)"><ellipse rx="41.1" ry="11.2"/><text y="3">16973824-38-0</text></g>
<g id="n16973824-37-32047" class="n" transform="translate(586.7,1056.1)"><ellipse rx="52.3" ry="11.2"/><text y="3">16973824-37-32047</text></g>
<g id="n65576-1-0" class="n" transform="translate(805,1056.1)"><ellipse rx="27.1" ry="11.2"/><text y="3">65576-1-0</text></g>
<g id="n46-43-760720" class="n" transform="translate(1007.8,1056.1)"><ellipse rx="38.3" ry="11.2"/><text y="3">46-43-760720</text></g>
<g id="n16973824-38-35" class="n" transform="translate(394,1102)"><ellipse rx="43.9" ry="11.2"/><text y="3">16973824-38-35</text></g>
<g id="n65580-0-41524" class="n" transform="translate(492.3,1102)"><ellipse rx="41.1" ry="11.2"/><text y="3">65580-0-41524</text></g>
<g id="n16973824-40-0" class="n" transform="translate(586.7,1102)"><ellipse rx="41.1" ry="11.2"/><text y="3">16973824-40-0</text></g>
<g id="n65576-1-78" class="n" transform="translate(804.3,1102)"><ellipse rx="32.7" ry="11.2"/><text y="3">65576-1-78</text></g>
<g id="n46-43-762794" class="n" transform="translate(1007.8,1102)"><ellipse rx="38.3" ry="11.2"/><text y="3">46-43-762794</text></g>
<g id="n65548-3-0" class="n" transform="translate(1229,1102)"><ellipse rx="27.1" ry="11.2"/><text y="3">65548-3-0</text></g>
<g id="n16973824-39-0" class="n" transform="translate(413.3,1148)"><ellipse rx="41.1" ry="11.2"/><text y="3">16973824-39-0</text></g>
<g id="n16973824-40-12837" class="n" transform="translate(586.7,1148)"><ellipse rx="52.3" ry="11.2"/><text y="3">16973824-40-12837</text></g>
<g id="n16908288-62-0" class="n" transform="translate(710,1148)"><ellipse rx="41.1" ry="11.2"/><text y="3">16908288-62-0</text></g>
<g id="n65576-1-41645" class="n" transform="translate(804.3,1148)"><ellipse rx="41.1" ry="11.2"/><text y="3">65576-1-41645</text></g>
<g id="n65589-2-0" class="n" transform="translate(1032.3,1148)"><ellipse rx="27.1" ry="11.2"/><text y="3">65589-2-0</text></g>
<g id="n65548-3-1905" class="n" transform="translate(1306,1148)"><ellipse rx="35.5" ry="11.2"/><text y="3">65548-3-1905</text></g>
<g id="n16973824-39-116" class="n" transform="translate(392.3,1194)"><ellipse rx="46.7" ry="11.2"/><text y="3">16973824-39-116</text></g>
<g id="n65580-0-41525" class="n" transform="translate(492.3,1194)"><ellipse rx="41.1" ry="11.2"/><text y="3">65580-0-41525</text></g>
<g id="n16973824-46-0" class="n" transform="translate(586.7,1194)"><ellipse rx="41.1" ry="11.2"/><text y="3">16973824-46-0</text></g>
<g id="n16908288-63-0" class="n" transform="translate(725.7,1194)"><ellipse rx="41.1" ry="11.2"/><text y="3">16908288-63-0</text></g>
<g id="n46-43-762795" class="n" transform="translate(1008.9,1194)"><ellipse rx="38.3" ry="11.2"/><text y="3">46-43-762795</text></g>
<g id="n65548-3-1936" class="n" transform="translate(1306,1194)"><ellipse rx="35.5" ry="11.2"/><text y="3">65548-3-1936</text></g>
<g id="n16777216-5-0" class="n" transform="translate(1394.5,1194)"><ellipse rx="38.3" ry="11.2"/><text y="3">16777216-5-0</text></g>
<g id="n16973824-38-36" class="n" transform="translate(356.7,1240)"><ellipse rx="43.9" ry="11.2"/><text y="3">16973824-38-36</text></g>
<g id="n65580-0-41703" class="n" transform="translate(484,1240)"><ellipse rx="41.1" ry="11.2"/><text y="3">65580-0-41703</text></g>
<g id="n16973824-46-8525" class="n" transform="translate(586.7,1240)"><ellipse rx="49.5" ry="11.2"/><text y="3">16973824-46-8525</text></g>
<g id="n16908288-63-35" class="n" transform="translate(706.7,1240)"><ellipse rx="43.9" ry="11.2"/><text y="3">16908288-63-35</text></g>
<g id="n65576-1-41688" class="n" transform="translate(804.3,1240)"><ellipse rx="41.1" ry="11.2"/><text y="3">65576-1-41688</text></g>
<g id="n46-43-762980" class="n" transform="translate(1008.9,1240)"><ellipse rx="38.3" ry="11.2"/><text y="3">46-43-762980</text></g>
<g id="n65548-3-43226" class="n" transform="translate(1306,1240)"><ellipse rx="38.3" ry="11.2"/><text y="3">65548-3-43226</text></g>
<g id="n16777216-6-0" class="n" transform="translate(1398,1240)"><ellipse rx="38.3" ry="11.2"/><text y="3">16777216-6-0</text></g>
<g id="n16973824-41-0" class="n" transform="translate(484,1285.9)"><ellipse rx="41.1" ry="11.2"/><text y="3">16973824-41-0</text></g>
<g id="n16973824-53-0" class="n" transform="translate(581.5,1285.9)"><ellipse rx="41.1" ry="11.2"/><text y="3">16973824-53-0</text></g>
<g id="n16908288-64-0" class="n" transform="translate(725.7,1285.9)"><ellipse rx="41.1" ry="11.2"/><text y="3">16908288-64-0</text></g>
<g id="n46-43-764754" class="n" transform="translate(967.4,1285.9)"><ellipse rx="38.3" ry="11.2"/><text y="3">46-43-764754</text></g>
<g id="n65587-0-0" class="n" transform="translate(1049.5,1285.9)"><ellipse rx="29.9" ry="11.2"/><text y="3">65587-0-0</text></g>
<g id="n16777216-7-0" class="n" transform="translate(1380.8,1285.9)"><ellipse rx="38.3" ry="11.2"/><text y="3">16777216-7-0</text></g>
<g id="n16973824-53-11397" class="n" transform="translate(569.3,1331.9)"><ellipse rx="52.3" ry="11.2"/><text y="3">16973824-53-11397</text></g>
<g id="n16908288-64-107" class="n" transform="translate(704.3,1331.9)"><ellipse rx="46.7" ry="11.2"/><text y="3">16908288-64-107</text></g>
<g id="n65576-1-41689" class="n" transform="translate(804.3,1331.9)"><ellipse rx="41.1" ry="11.2"/><text y="3">65576-1-41689</text></g>
<g id="n65541-0-0" class="n" transform="translate(886.7,1331.9)"><ellipse rx="29.9" ry="11.2"/><text y="3">65541-0-0</text></g>
<g id="n46-43-766398" class="n" transform="translate(967.4,1331.9)"><ellipse rx="38.3" ry="11.2"/><text y="3">46-43-766398</text></g>
<g id="n65587-0-78" class="n" transform="translate(1050.2,1331.9)"><ellipse rx="32.7" ry="11.2"/><text y="3">65587-0-78</text></g>
<g id="n65548-3-43269" class="n" transform="translate(1306,1331.9)"><ellipse rx="38.3" ry="11.2"/><text y="3">65548-3-43269</text></g>
<g id="n16777216-7-35" class="n" transform="translate(1400.7,1331.9)"><ellipse rx="41.1" ry="11.2"/><text y="3">16777216-7-35</text></g>
<g id="n16973824-61-0" class="n" transform="translate(569,1377.9)"><ellipse rx="41.1" ry="11.2"/><text y="3">16973824-61-0</text></g>
<g id="n16908288-63-36" class="n" transform="translate(667.7,1377.9)"><ellipse rx="43.9" ry="11.2"/><text y="3">16908288-63-36</text></g>
<g id="n65576-1-41799" class="n" transform="translate(777.7,1377.9)"><ellipse rx="41.1" ry="11.2"/><text y="3">65576-1-41799</text></g>
<g id="n65541-0-78" class="n" transform="translate(864.3,1377.9)"><ellipse rx="32.7" ry="11.2"/><text y="3">65541-0-78</text></g>
<g id="n65600-2-0" class="n" transform="translate(967.6,1377.9)"><ellipse rx="29.9" ry="11.2"/><text y="3">65600-2-0</text></g>
<g id="n16908288-65-0" class="n" transform="translate(1050.2,1377.9)"><ellipse rx="41.1" ry="11.2"/><text y="3">16908288-65-0</text></g>
<g id="n65587-0-60390" class="n" transform="translate(1144.9,1377.9)"><ellipse rx="41.1" ry="11.2"/><text y="3">65587-0-60390</text></g>
<g id="n16777216-8-0" class="n" transform="translate(1381.5,1377.9)"><ellipse rx="38.3" ry="11.2"/><text y="3">16777216-8-0</text></g>
<g id="n16973824-61-17" class="n" transform="translate(569,1423.8)"><ellipse rx="43.9" ry="11.2"/><text y="3">16973824-61-17</text></g>
<g id="n16908288-71-0" class="n" transform="translate(670.7,1423.8)"><ellipse rx="41.1" ry="11.2"/><text y="3">16908288-71-0</text></g>
<g id="n65541-0-41314" class="n" transform="translate(765.3,1423.8)"><ellipse rx="41.1" ry="11.2"/><text y="3">65541-0-41314</text></g>
<g id="n16777216-9-0" class="n" transform="translate(864.3,1423.8)"><ellipse rx="38.3" ry="11.2"/><text y="3">16777216-9-0</text></g>
<g id="n46-43-766399" class="n" transform="translate(959.2,1423.8)"><ellipse rx="38.3" ry="11.2"/><text y="3">46-43-766399</text></g>
<g id="n16908288-66-0" class="n" transform="translate(1205.2,1423.8)"><ellipse rx="41.1" ry="11.2"/><text y="3">16908288-66-0</text></g>
<g id="n65548-3-43270" class="n" transform="translate(1306,1423.8)"><ellipse rx="38.3" ry="11.2"/><text y="3">65548-3-43270</text></g>
<g id="n16777216-8-115" class="n" transform="translate(1403.2,1423.8)"><ellipse rx="43.9" ry="11.2"/><text y="3">16777216-8-115</text></g>
<g id="n16973824-67-0" class="n" transform="translate(569,1469.8)"><ellipse rx="41.1" ry="11.2"/><text y="3">16973824-67-0</text></g>
<g id="n16777216-10-0" class="n" transform="translate(762.7,1469.8)"><ellipse rx="41.1" ry="11.2"/><text y="3">16777216-10-0</text></g>
<g id="n46-43-766584" class="n" transform="translate(959.2,1469.8)"><ellipse rx="38.3" ry="11.2"/><text y="3">46-43-766584</text></g>
<g id="n65587-0-60433" class="n" transform="translate(1111.1,1469.8)"><ellipse rx="41.1" ry="11.2"/><text y="3">65587-0-60433</text></g>
<g id="n16908288-66-35" class="n" transform="translate(1208.6,1469.8)"><ellipse rx="43.9" ry="11.2"/><text y="3">16908288-66-35</text></g>
<g id="n65548-3-43396" class="n" transform="translate(1307.8,1469.8)"><ellipse rx="38.3" ry="11.2"/><text y="3">65548-3-43396</text></g>
<g id="n16777216-7-36" class="n" transform="translate(1434.8,1469.8)"><ellipse rx="41.1" ry="11.2"/><text y="3">16777216-7-36</text></g>
<g id="n65541-0-41357" class="n" transform="translate(659.3,1515.8)"><ellipse rx="41.1" ry="11.2"/><text y="3">65541-0-41357</text></g>
<g id="n16777216-10-35" class="n" transform="translate(756.7,1515.8)"><ellipse rx="43.9" ry="11.2"/><text y="3">16777216-10-35</text></g>
<g id="n65558-0-0" class="n" transform="translate(881.7,1515.8)"><ellipse rx="29.9" ry="11.2"/><text y="3">65558-0-0</text></g>
<g id="n46-43-775053" class="n" transform="translate(961.2,1515.8)"><ellipse rx="38.3" ry="11.2"/><text y="3">46-43-775053</text></g>
<g id="n16908288-67-0" class="n" transform="translate(1180,1515.8)"><ellipse rx="41.1" ry="11.2"/><text y="3">16908288-67-0</text></g>
<g id="n16777216-18-0" class="n" transform="translate(1314.3,1515.8)"><ellipse rx="41.1" ry="11.2"/><text y="3">16777216-18-0</text></g>
<g id="n16777216-11-0" class="n" transform="translate(665,1561.7)"><ellipse rx="41.1" ry="11.2"/><text y="3">16777216-11-0</text></g>
<g id="n65558-0-78" class="n" transform="translate(881.7,1561.7)"><ellipse rx="32.7" ry="11.2"/><text y="3">65558-0-78</text></g>
<g id="n65601-2-0" class="n" transform="translate(960.4,1561.7)"><ellipse rx="29.9" ry="11.2"/><text y="3">65601-2-0</text></g>
<g id="n65587-0-60434" class="n" transform="translate(1090.5,1561.7)"><ellipse rx="41.1" ry="11.2"/><text y="3">65587-0-60434</text></g>
<g id="n16908288-67-115" class="n" transform="translate(1190.3,1561.7)"><ellipse rx="46.7" ry="11.2"/><text y="3">16908288-67-115</text></g>
<g id="n65541-0-41358" class="n" transform="translate(569.3,1607.7)"><ellipse rx="41.1" ry="11.2"/><text y="3">65541-0-41358</text></g>
<g id="n16777216-11-130" class="n" transform="translate(669.3,1607.7)"><ellipse rx="46.7" ry="11.2"/><text y="3">16777216-11-130</text></g>
<g id="n16908288-68-0" class="n" transform="translate(793.3,1607.7)"><ellipse rx="41.1" ry="11.2"/><text y="3">16908288-68-0</text></g>
<g id="n65558-0-41319" class="n" transform="translate(887.7,1607.7)"><ellipse rx="41.1" ry="11.2"/><text y="3">65558-0-41319</text></g>
<g id="n46-43-775054" class="n" transform="translate(1000.3,1607.7)"><ellipse rx="38.3" ry="11.2"/><text y="3">46-43-775054</text></g>
<g id="n65587-0-60544" class="n" transform="translate(1091.5,1607.7)"><ellipse rx="41.1" ry="11.2"/><text y="3">65587-0-60544</text></g>
<g id="n16908288-66-36" class="n" transform="translate(1222.4,1607.7)"><ellipse rx="43.9" ry="11.2"/><text y="3">16908288-66-36</text></g>
<g id="n65541-0-41468" class="n" transform="translate(569.3,1653.7)"><ellipse rx="41.1" ry="11.2"/><text y="3">65541-0-41468</text></g>
<g id="n16777216-10-36" class="n" transform="translate(685,1653.7)"><ellipse rx="43.9" ry="11.2"/><text y="3">16777216-10-36</text></g>
<g id="n16908288-69-0" class="n" transform="translate(866.2,1653.7)"><ellipse rx="41.1" ry="11.2"/><text y="3">16908288-69-0</text></g>
<g id="n46-43-775239" class="n" transform="translate(1000.2,1653.7)"><ellipse rx="38.3" ry="11.2"/><text y="3">46-43-775239</text></g>
<g id="n16908288-72-0" class="n" transform="translate(1091.5,1653.7)"><ellipse rx="41.1" ry="11.2"/><text y="3">16908288-72-0</text></g>
<g id="n16777216-15-0" class="n" transform="translate(569.3,1699.7)"><ellipse rx="41.1" ry="11.2"/><text y="3">16777216-15-0</text></g>
<g id="n65558-0-41362" class="n" transform="translate(759,1699.7)"><ellipse rx="41.1" ry="11.2"/><text y="3">65558-0-41362</text></g>
<g id="n16908288-69-35" class="n" transform="translate(856.5,1699.7)"><ellipse rx="43.9" ry="11.2"/><text y="3">16908288-69-35</text></g>
<g id="n65580-1-0" class="n" transform="translate(1000,1699.7)"><ellipse rx="27.1" ry="11.2"/><text y="3">65580-1-0</text></g>
<g id="n46-43-783417" class="n" transform="translate(1126,1699.7)"><ellipse rx="38.3" ry="11.2"/><text y="3">46-43-783417</text></g>
<g id="n16908288-70-0" class="n" transform="translate(767.2,1745.6)"><ellipse rx="41.1" ry="11.2"/><text y="3">16908288-70-0</text></g>
<g id="n65580-1-78" class="n" transform="translate(1001,1745.6)"><ellipse rx="29.9" ry="11.2"/><text y="3">65580-1-78</text></g>
<g id="n46-43-785215" class="n" transform="translate(1126,1745.6)"><ellipse rx="38.3" ry="11.2"/><text y="3">46-43-785215</text></g>
<g id="n65616-0-0" class="n" transform="translate(1269,1745.6)"><ellipse rx="27.1" ry="11.2"/><text y="3">65616-0-0</text></g>
<g id="n65558-0-41363" class="n" transform="translate(684.3,1791.6)"><ellipse rx="41.1" ry="11.2"/><text y="3">65558-0-41363</text></g>
<g id="n16908288-70-105" class="n" transform="translate(784,1791.6)"><ellipse rx="46.7" ry="11.2"/><text y="3">16908288-70-105</text></g>
<g id="n16973824-42-0" class="n" transform="translate(907.4,1791.6)"><ellipse rx="41.1" ry="11.2"/><text y="3">16973824-42-0</text></g>
<g id="n65580-1-41303" class="n" transform="translate(1002,1791.6)"><ellipse rx="41.1" ry="11.2"/><text y="3">65580-1-41303</text></g>
<g id="n65541-1-0" class="n" transform="translate(1085.7,1791.6)"><ellipse rx="27.1" ry="11.2"/><text y="3">65541-1-0</text></g>
<g id="n46-43-786709" class="n" transform="translate(1166.3,1791.6)"><ellipse rx="38.3" ry="11.2"/><text y="3">46-43-786709</text></g>
<g id="n65616-0-78" class="n" transform="translate(1332.8,1791.6)"><ellipse rx="29.9" ry="11.2"/><text y="3">65616-0-78</text></g>
<g id="n65558-0-41473" class="n" transform="translate(684.3,1837.6)"><ellipse rx="41.1" ry="11.2"/><text y="3">65558-0-41473</text></g>
<g id="n16908288-69-36" class="n" transform="translate(816.5,1837.6)"><ellipse rx="43.9" ry="11.2"/><text y="3">16908288-69-36</text></g>
<g id="n16973824-43-0" class="n" transform="translate(992.9,1837.6)"><ellipse rx="41.1" ry="11.2"/><text y="3">16973824-43-0</text></g>
<g id="n65541-1-78" class="n" transform="translate(1085.7,1837.6)"><ellipse rx="29.9" ry="11.2"/><text y="3">65541-1-78</text></g>
<g id="n65604-2-0" class="n" transform="translate(1163.2,1837.6)"><ellipse rx="27.1" ry="11.2"/><text y="3">65604-2-0</text></g>
<g id="n65616-0-41336" class="n" transform="translate(1332.8,1837.6)"><ellipse rx="41.1" ry="11.2"/><text y="3">65616-0-41336</text></g>
<g id="n16777216-12-0" class="n" transform="translate(1427,1837.6)"><ellipse rx="41.1" ry="11.2"/><text y="3">16777216-12-0</text></g>
<g id="n16908288-73-0" class="n" transform="translate(684.3,1883.5)"><ellipse rx="41.1" ry="11.2"/><text y="3">16908288-73-0</text></g>
<g id="n65580-1-41346" class="n" transform="translate(802.3,1883.5)"><ellipse rx="41.1" ry="11.2"/><text y="3">65580-1-41346</text></g>
<g id="n16973824-43-35" class="n" transform="translate(902.4,1883.5)"><ellipse rx="43.9" ry="11.2"/><text y="3">16973824-43-35</text></g>
<g id="n16777216-16-0" class="n" transform="translate(1000,1883.5)"><ellipse rx="41.1" ry="11.2"/><text y="3">16777216-16-0</text></g>
<g id="n65541-1-58509" class="n" transform="translate(1094.6,1883.5)"><ellipse rx="41.1" ry="11.2"/><text y="3">65541-1-58509</text></g>
<g id="n46-43-786710" class="n" transform="translate(1201.9,1883.5)"><ellipse rx="38.3" ry="11.2"/><text y="3">46-43-786710</text></g>
<g id="n16777216-13-0" class="n" transform="translate(1332.8,1883.5)"><ellipse rx="41.1" ry="11.2"/><text y="3">16777216-13-0</text></g>
<g id="n16973824-44-0" class="n" transform="translate(821.8,1929.5)"><ellipse rx="41.1" ry="11.2"/><text y="3">16973824-44-0</text></g>
<g id="n16777216-19-0" class="n" transform="translate(1077.9,1929.5)"><ellipse rx="41.1" ry="11.2"/><text y="3">16777216-19-0</text></g>
<g id="n46-43-786895" class="n" transform="translate(1201.9,1929.5)"><ellipse rx="38.3" ry="11.2"/><text y="3">46-43-786895</text></g>
<g id="n16777216-13-35" class="n" transform="translate(1332.8,1929.5)"><ellipse rx="43.9" ry="11.2"/><text y="3">16777216-13-35</text></g>
<g id="n65616-0-41379" class="n" transform="translate(1429.6,1929.5)"><ellipse rx="41.1" ry="11.2"/><text y="3">65616-0-41379</text></g>
<g id="n65580-1-41347" class="n" transform="translate(740.4,1975.5)"><ellipse rx="41.1" ry="11.2"/><text y="3">65580-1-41347</text></g>
<g id="n16973824-44-107" class="n" transform="translate(839.6,1975.5)"><ellipse rx="46.7" ry="11.2"/><text y="3">16973824-44-107</text></g>
<g id="n65541-1-58552" class="n" transform="translate(963.6,1975.5)"><ellipse rx="41.1" ry="11.2"/><text y="3">65541-1-58552</text></g>
<g id="n16777216-19-35" class="n" transform="translate(1061.8,1975.5)"><ellipse rx="43.9" ry="11.2"/><text y="3">16777216-19-35</text></g>
<g id="n46-43-788184" class="n" transform="translate(1156.5,1975.5)"><ellipse rx="38.3" ry="11.2"/><text y="3">46-43-788184</text></g>
<g id="n65563-0-0" class="n" transform="translate(1236.3,1975.5)"><ellipse rx="29.9" ry="11.2"/><text y="3">65563-0-0</text></g>
<g id="n16777216-14-0" class="n" transform="translate(1413.5,1975.5)"><ellipse rx="41.1" ry="11.2"/><text y="3">16777216-14-0</text></g>
<g id="n65580-1-41457" class="n" transform="translate(740.4,2021.4)"><ellipse rx="41.1" ry="11.2"/><text y="3">65580-1-41457</text></g>
<g id="n16973824-43-36" class="n" transform="translate(844.6,2021.4)"><ellipse rx="43.9" ry="11.2"/><text y="3">16973824-43-36</text></g>
<g id="n16777216-20-0" class="n" transform="translate(985,2021.4)"><ellipse rx="41.1" ry="11.2"/><text y="3">16777216-20-0</text></g>
<g id="n65595-1-0" class="n" transform="translate(1111.9,2021.4)"><ellipse rx="29.9" ry="11.2"/><text y="3">65595-1-0</text></g>
<g id="n65563-0-78" class="n" transform="translate(1236.3,2021.4)"><ellipse rx="32.7" ry="11.2"/><text y="3">65563-0-78</text></g>
<g id="n16777216-14-122" class="n" transform="translate(1396.5,2021.4)"><ellipse rx="46.7" ry="11.2"/><text y="3">16777216-14-122</text></g>
<g id="n65616-0-41380" class="n" transform="translate(1496.3,2021.4)"><ellipse rx="41.1" ry="11.2"/><text y="3">65616-0-41380</text></g>
<g id="n16973824-49-0" class="n" transform="translate(740.4,2067.4)"><ellipse rx="41.1" ry="11.2"/><text y="3">16973824-49-0</text></g>
<g id="n65541-1-58553" class="n" transform="translate(894.6,2067.4)"><ellipse rx="41.1" ry="11.2"/><text y="3">65541-1-58553</text></g>
<g id="n16777216-20-112" class="n" transform="translate(994.6,2067.4)"><ellipse rx="46.7" ry="11.2"/><text y="3">16777216-20-112</text></g>
<g id="n46-43-788185" class="n" transform="translate(1116,2067.4)"><ellipse rx="38.3" ry="11.2"/><text y="3">46-43-788185</text></g>
<g id="n65563-0-41327" class="n" transform="translate(1206.2,2067.4)"><ellipse rx="41.1" ry="11.2"/><text y="3">65563-0-41327</text></g>
<g id="n16973824-45-0" class="n" transform="translate(1300.9,2067.4)"><ellipse rx="41.1" ry="11.2"/><text y="3">16973824-45-0</text></g>
<g id="n16777216-13-36" class="n" transform="translate(1398.6,2067.4)"><ellipse rx="43.9" ry="11.2"/><text y="3">16777216-13-36</text></g>
<g id="n65616-0-41563" class="n" transform="translate(1496.3,2067.4)"><ellipse rx="41.1" ry="11.2"/><text y="3">65616-0-41563</text></g>
<g id="n65541-1-58663" class="n" transform="translate(894.6,2113.4)"><ellipse rx="41.1" ry="11.2"/><text y="3">65541-1-58663</text></g>
<g id="n16777216-19-36" class="n" transform="translate(1006,2113.4)"><ellipse rx="43.9" ry="11.2"/><text y="3">16777216-19-36</text></g>
<g id="n46-43-788370" class="n" transform="translate(1111,2113.4)"><ellipse rx="38.3" ry="11.2"/><text y="3">46-43-788370</text></g>
<g id="n16973824-47-0" class="n" transform="translate(1206.6,2113.4)"><ellipse rx="41.1" ry="11.2"/><text y="3">16973824-47-0</text></g>
<g id="n16777216-17-0" class="n" transform="translate(1496.3,2113.4)"><ellipse rx="41.1" ry="11.2"/><text y="3">16777216-17-0</text></g>
<g id="n16777216-21-0" class="n" transform="translate(894.6,2159.4)"><ellipse rx="41.1" ry="11.2"/><text y="3">16777216-21-0</text></g>
<g id="n65580-2-0" class="n" transform="translate(1031.4,2159.4)"><ellipse rx="27.1" ry="11.2"/><text y="3">65580-2-0</text></g>
<g id="n46-43-789858" class="n" transform="translate(1111,2159.4)"><ellipse rx="38.3" ry="11.2"/><text y="3">46-43-789858</text></g>
<g id="n16973824-47-35" class="n" transform="translate(1206.2,2159.4)"><ellipse rx="43.9" ry="11.2"/><text y="3">16973824-47-35</text></g>
<g id="n65563-0-41370" class="n" transform="translate(1304.6,2159.4)"><ellipse rx="41.1" ry="11.2"/><text y="3">65563-0-41370</text></g>
</g>
<g id="caption" class="cap">
<text x="15" y="2272" word-spacing="11.8" textLength="1716" lengthAdjust="spacing"><tspan font-weight="bold">Fig. 18:</tspan> A taste of the happens-before relation tracking in <tspan class="mono">btrfs</tspan> file system. This snippet is only around 10% of the actual</text>
<text x="15" y="2302.5" word-spacing="11.3" textLength="1716" lengthAdjust="spacing">happens-before graph tracked in this execution. Each node in the graph is a synchronization point represented by a three-tuple</text>
<text x="15" y="2333" word-spacing="2.3"><tspan class="mono">&lt;thread id, context id, instruction id&gt;</tspan> and the directed edge between two nodes <tspan class="mono">A</tspan> and <tspan class="mono">B</tspan> means <tspan class="mono">A</tspan> happens-before <tspan class="mono">B</tspan>.</text>
<text x="873" y="2368" text-anchor="middle">18</text>
</g>
</svg>
